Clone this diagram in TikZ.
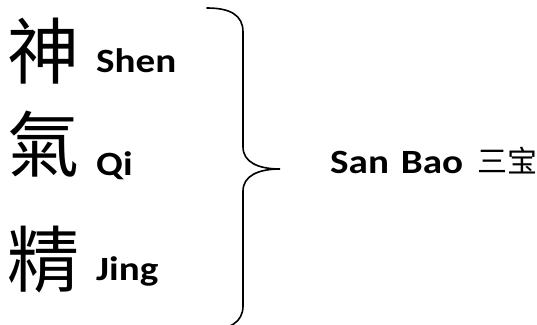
\documentclass[tikz,border=0pt]{standalone}
\usepackage{fontspec}
\setmainfont{Carlito}
\newfontfamily\labelfont[FakeStretch=1.15]{Carlito}
\newfontfamily\cjktc{Noto Sans CJK TC}
\newfontfamily\cjksc{Noto Sans CJK SC}
\newcommand{\widewords}{\spaceskip=12pt\relax}
\begin{document}
\begin{tikzpicture}[x=1pt,y=-1pt,
  bigchar/.style={anchor=base west,inner sep=0pt,font=\cjktc\fontsize{72}{72}\selectfont},
  pinyin/.style={anchor=base west,inner sep=0pt,font=\labelfont\bfseries\fontsize{34}{34}\selectfont\widewords},
  cjksmall/.style={anchor=base west,inner sep=0pt,font=\cjksc\fontsize{30}{30}\selectfont},
  bracepath/.style={line width=1.6pt,line cap=round}]
\useasboundingbox (0,0) rectangle (537,324);
\clip (0,0) rectangle (537,324);
\node[bigchar] (shen) at (7,78) {神};
\node[bigchar] (qi) at (7,171) {氣};
\node[bigchar] (jing) at (7,286) {精};
\node[pinyin] (shenl) at (96,72) {Shen};
\node[pinyin] (qil) at (96,175) {Qi};
\node[pinyin] (jingl) at (96,280) {Jing};
\node[pinyin] (sanbao) at (330,173) {San Bao};
\node[cjksmall] (sanbaocjk) at (477,172) {三宝};
\draw[bracepath] (207,8) .. controls (230,8) and (243,15) .. (243,32) -- (243,147)
  .. controls (243,162) and (258,169) .. (280,169)
  .. controls (258,169) and (243,176) .. (243,191) -- (243,306)
  .. controls (243,322) and (230,330) .. (207,330);
\end{tikzpicture}
\end{document}
